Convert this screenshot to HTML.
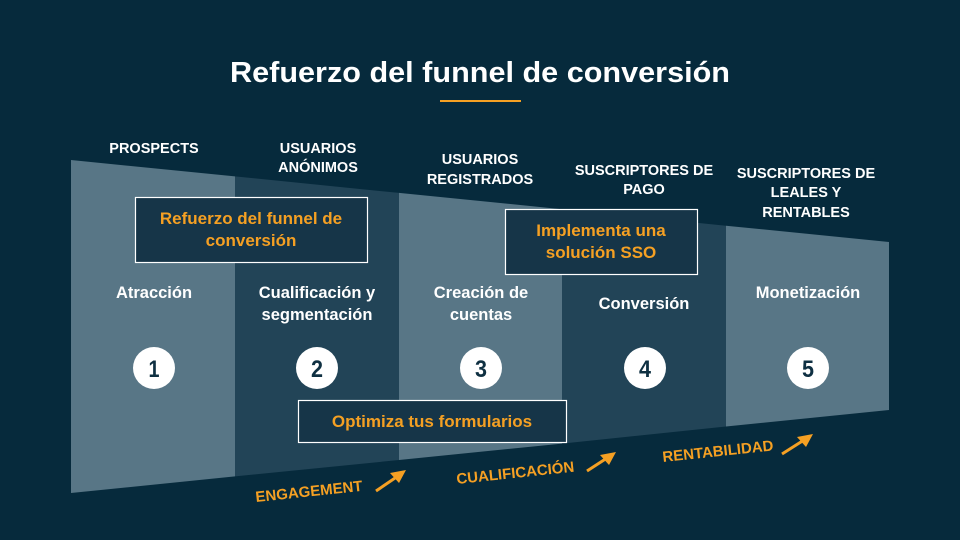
<!DOCTYPE html>
<html><head><meta charset="utf-8"><style>
body{margin:0;background:#062a3c;}
svg{display:block;font-family:"Liberation Sans",sans-serif;font-weight:bold;}
</style></head><body>
<svg width="960" height="540" viewBox="0 0 960 540">
<rect width="960" height="540" fill="#062a3c"/>
<text x="480" y="82" text-anchor="middle" fill="#fff" font-size="29" textLength="500" lengthAdjust="spacingAndGlyphs">Refuerzo del funnel de conversión</text>
<rect x="440" y="100" width="81" height="2" fill="#f5a023"/>
<polygon points="71,160 235,176.4 235,476.4 71,493" fill="#587686"/>
<polygon points="235,176.4 399,192.9 399,460 235,476.4" fill="#224457"/>
<polygon points="399,192.9 562,209.2 562,443.6 399,460" fill="#587686"/>
<polygon points="562,209.2 726,225.7 726,426.5 562,443.6" fill="#224457"/>
<polygon points="726,225.7 889,242 889,410 726,426.5" fill="#587686"/>
<g fill="#fff" font-size="14.5" text-anchor="middle">
<text x="154" y="153">PROSPECTS</text>
<text x="318" y="153">USUARIOS</text><text x="318" y="172">ANÓNIMOS</text>
<text x="480" y="164">USUARIOS</text><text x="480" y="184">REGISTRADOS</text>
<text x="644" y="175">SUSCRIPTORES DE</text><text x="644" y="194">PAGO</text>
<text x="806" y="178">SUSCRIPTORES DE</text><text x="806" y="197">LEALES Y</text><text x="806" y="217">RENTABLES</text>
</g>
<g fill="#fff" font-size="16.5" text-anchor="middle">
<text x="154" y="298">Atracción</text>
<text x="317" y="298">Cualificación y</text><text x="317" y="320">segmentación</text>
<text x="481" y="298">Creación de</text><text x="481" y="320">cuentas</text>
<text x="644" y="309">Conversión</text>
<text x="808" y="298">Monetización</text>
</g>
<g>
<circle cx="154" cy="368" r="21" fill="#fff"/><circle cx="317" cy="368" r="21" fill="#fff"/><circle cx="481" cy="368" r="21" fill="#fff"/><circle cx="645" cy="368" r="21" fill="#fff"/><circle cx="808" cy="368" r="21" fill="#fff"/>
<g fill="#0f3042" font-size="24" text-anchor="middle">
<text x="154" y="377" textLength="11" lengthAdjust="spacingAndGlyphs">1</text><text x="317" y="377" textLength="12" lengthAdjust="spacingAndGlyphs">2</text><text x="481" y="377" textLength="12" lengthAdjust="spacingAndGlyphs">3</text><text x="645" y="377" textLength="12" lengthAdjust="spacingAndGlyphs">4</text><text x="808" y="377" textLength="12" lengthAdjust="spacingAndGlyphs">5</text>
</g></g>
<g fill="#163548" stroke="#fff" stroke-width="1.2">
<rect x="135.5" y="197.5" width="232" height="65"/>
<rect x="505.5" y="209.5" width="192" height="65"/>
<rect x="298.5" y="400.5" width="268" height="42"/>
</g>
<g fill="#f5a023" font-size="17" text-anchor="middle">
<text x="251" y="224">Refuerzo del funnel de</text><text x="251" y="246">conversión</text>
<text x="601" y="236">Implementa una</text><text x="601" y="258">solución SSO</text>
<text x="432" y="427">Optimiza tus formularios</text>
</g>
<g fill="#f5a023" font-size="15">
<text transform="translate(256,502) rotate(-6)">ENGAGEMENT</text>
<text transform="translate(457,484) rotate(-6)">CUALIFICACIÓN</text>
<text transform="translate(663,462) rotate(-6)">RENTABILIDAD</text>
</g>
<g stroke="#f5a023" stroke-width="3" fill="#f5a023">
<line x1="376" y1="491" x2="398" y2="476"/><polygon points="406,470 390,473 399,483" stroke="none"/>
<line x1="587" y1="471" x2="607" y2="458"/><polygon points="616,452 600,455 609,465" stroke="none"/>
<line x1="782" y1="454" x2="804" y2="440"/><polygon points="813,434 797,437 806,447" stroke="none"/>
</g>
</svg>
</body></html>
